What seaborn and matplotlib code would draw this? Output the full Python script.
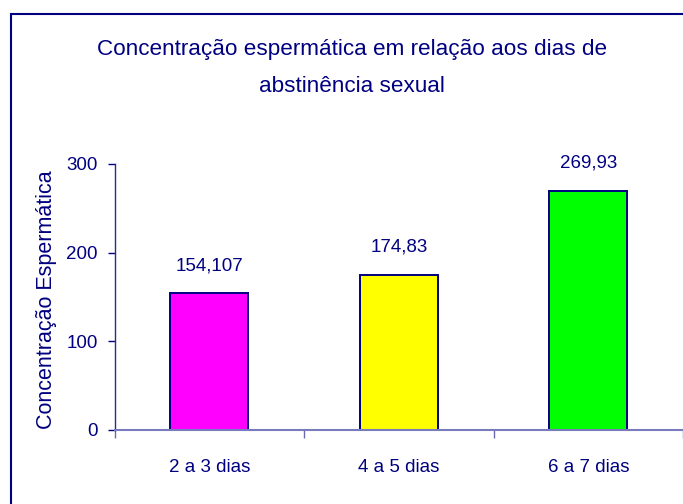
import matplotlib
matplotlib.use("Agg")
import matplotlib.pyplot as plt
import seaborn as sns
import pandas as pd
from matplotlib.patches import Rectangle

categories = ["2 a 3 dias", "4 a 5 dias", "6 a 7 dias"]
values = [154.107, 174.83, 269.93]
value_labels = ["154,107", "174,83", "269,93"]
bar_colors = ["#FF00FF", "#FFFF00", "#00FF00"]
yticks = [0, 100, 200, 300]

title = "Concentração espermática em relação aos dias de\nabstinência sexual"
ylabel = "Concentração Espermática"

sns.set_theme(style="white")
plt.rcParams["font.family"] = ["Liberation Sans", "DejaVu Sans"]

navy = "#000080"
df = pd.DataFrame({"cat": categories, "val": values})

fig = plt.figure(figsize=(6.83, 5.04), dpi=100)
fig.patch.set_facecolor("white")
ax = fig.add_axes([114.5 / 683, 1 - 430 / 504, 1 - 114.5 / 683, (430 - 164) / 504])

sns.barplot(data=df, x="cat", y="val", hue="cat", palette=bar_colors,
            width=0.41, edgecolor=navy, linewidth=1.4, saturation=1,
            legend=False, ax=ax, order=categories, hue_order=categories)

for i, (v, lab) in enumerate(zip(values, value_labels)):
    ax.annotate(lab, (i, v), xytext=(0, 20), textcoords="offset points",
                ha="center", va="center", fontsize=13.5, color=navy)

ax.set_xlim(-0.5, 2.5)
ax.set_ylim(0, 300)
ax.set_yticks(yticks)
ax.set_yticklabels([str(t) for t in yticks])
ax.set_xticks(range(len(categories)))
ax.set_xticklabels(categories)
ax.set_xticks([-0.5, 0.5, 1.5, 2.5], minor=True)
ax.tick_params(axis="x", which="major", length=0, pad=21, labelsize=13.5, labelcolor=navy)
ax.tick_params(axis="x", which="minor", length=6, width=1, color="#6a6ab0", direction="out", bottom=True)
ax.tick_params(axis="y", which="major", length=5, width=1, color=navy, direction="out", left=True,
               pad=7, labelsize=13.5, labelcolor=navy)
ax.set_xlabel("")
ax.set_ylabel("")

for s in ["top", "right"]:
    ax.spines[s].set_visible(False)
ax.spines["left"].set_color("#2a2a8a")
ax.spines["left"].set_linewidth(1.0)
ax.spines["bottom"].set_color("#7a7abf")
ax.spines["bottom"].set_linewidth(1.5)
ax.spines["left"].set_bounds(0, 300)

fig.text(47 / 683, 1 - 300 / 504, ylabel, rotation=90, ha="center", va="center",
         fontsize=15.5, color=navy)

fig.text(352 / 683, 1 - 68 / 504, title, ha="center", va="center",
         fontsize=16.2, color=navy, linespacing=1.98)

fig.patches.append(Rectangle((11 / 683, -0.1), 1.2, 1.1 - 14 / 504,
                             transform=fig.transFigure, fill=False,
                             edgecolor=navy, linewidth=1.5))

fig.savefig("out.png", dpi=100)
